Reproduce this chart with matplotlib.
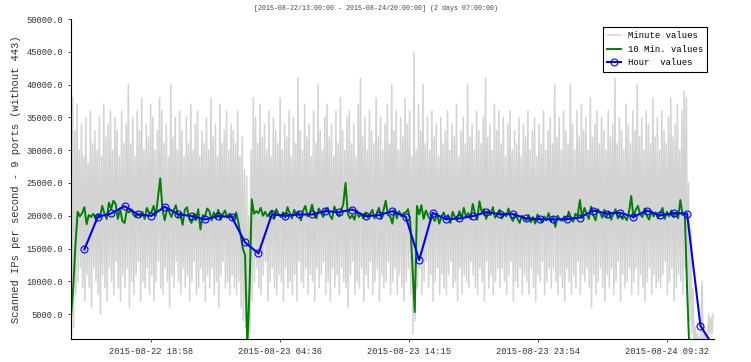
import numpy as np
import matplotlib
matplotlib.use("Agg")
from matplotlib import pyplot as plt

plt.rcParams['font.family'] = ['Liberation Mono', 'DejaVu Sans Mono']

title = "[2015-08-22/13:00:00 - 2015-08-24/20:00:00] (2 days 07:00:00)"
ylabel = "Scanned IPs per second - 9 ports (without 443)"
tick_minutes = [358, 936, 1515, 2094, 2672]
tick_labels = ["2015-08-22 18:58", "2015-08-23 04:36", "2015-08-23 14:15",
               "2015-08-23 23:54", "2015-08-24 09:32"]

# minute values, summarised per 10 minutes as (low, high) in thousands
minute_hi_k = [
    38, 33, 37, 30, 34, 29, 35, 28, 36, 31, 33, 30,
    35, 29, 37, 32, 34, 36, 30, 35, 33, 29, 36, 31,
    34, 40, 31, 35, 29, 36, 33, 38, 30, 34, 32, 37,
    35, 30, 33, 38, 36, 31, 34, 29, 40, 32, 35, 30,
    36, 33, 29, 35, 31, 37, 30, 34, 36, 29, 33, 31,
    35, 30, 38, 32, 34, 29, 37, 31, 33, 36, 30, 34,
    33, 31, 36, 29, 32, 27, 26, 20, 30, 38, 35, 31,
    37, 32, 34, 30, 36, 29, 35, 33, 31, 38, 30, 34,
    32, 36, 29, 35, 31, 41, 33, 30, 37, 32, 34, 29,
    36, 31, 40, 33, 30, 35, 37, 32, 34, 29, 36, 31,
    38, 33, 30, 35, 36, 31, 34, 29, 37, 41, 32, 35,
    30, 36, 33, 31, 38, 32, 35, 30, 34, 37, 31, 40,
    33, 36, 30, 35, 32, 38, 34, 36, 29, 45, 30, 37,
    33, 40, 31, 35, 30, 36, 32, 34, 29, 35, 31, 33,
    36, 30, 34, 32, 37, 29, 33, 35, 31, 40, 32, 34,
    30, 36, 33, 31, 35, 41, 32, 34, 30, 37, 33, 36,
    31, 35, 29, 34, 36, 30, 33, 31, 35, 29, 34, 32,
    36, 30, 33, 35, 29, 34, 31, 36, 30, 33, 35, 31,
    40, 32, 35, 30, 36, 33, 31, 40, 34, 30, 36, 32,
    37, 33, 35, 30, 38, 32, 34, 36, 31, 35, 33, 30,
    36, 32, 34, 41, 31, 35, 33, 30, 37, 34, 31, 36,
    33, 40, 32, 35, 30, 36, 34, 31, 38, 32, 35, 30,
    36, 33, 31, 35, 38, 32, 34, 37, 30, 36, 39, 38,
    25, 18, 9, 3, 2, 1.5, 10, 3, 2, 5, 4.5, 5,
]
minute_lo_k = [
    1, 3, 8, 10, 12, 9, 7, 11, 9, 6, 12, 10,
    8, 5, 11, 9, 7, 12, 10, 8, 13, 9, 7, 11,
    9, 12, 6, 10, 8, 11, 13, 7, 10, 9, 12, 8,
    11, 7, 10, 13, 9, 8, 12, 10, 6, 11, 9, 13,
    10, 8, 12, 9, 11, 7, 10, 13, 8, 9, 12, 10,
    7, 11, 9, 12, 8, 10, 6, 11, 13, 9, 10, 8,
    11, 9, 8, 10, 6, 4, 3, 1, 2, 7, 10, 12,
    9, 8, 11, 13, 7, 10, 12, 9, 8, 11, 10, 7,
    12, 9, 10, 8, 11, 7, 13, 10, 9, 12, 8, 11,
    10, 7, 12, 9, 11, 13, 8, 10, 7, 12, 9, 11,
    8, 12, 10, 9, 6, 11, 13, 8, 10, 9, 12, 7,
    11, 9, 13, 8, 10, 12, 7, 11, 9, 10, 13, 8,
    10, 12, 8, 11, 9, 7, 10, 12, 8, 2, 4, 9,
    12, 8, 10, 13, 9, 11, 7, 10, 12, 8, 11, 9,
    8, 11, 13, 9, 10, 7, 12, 8, 11, 10, 9, 13,
    11, 9, 8, 12, 10, 7, 13, 9, 11, 8, 10, 12,
    9, 12, 10, 8, 11, 13, 7, 10, 9, 12, 8, 11,
    10, 8, 12, 9, 7, 11, 10, 13, 8, 10, 12, 9,
    12, 10, 8, 11, 9, 7, 12, 10, 8, 11, 9, 13,
    8, 11, 10, 12, 9, 6, 11, 8, 10, 12, 9, 7,
    11, 9, 12, 8, 10, 13, 7, 11, 9, 10, 12, 8,
    10, 12, 8, 11, 9, 7, 10, 12, 8, 11, 9, 10,
    9, 11, 13, 8, 10, 12, 7, 9, 11, 10, 8, 12,
    6, 4, 2, 0.5, 0.5, 0.5, 1, 1, 0.5, 1, 2, 2,
]

# 10 minute values, one row per hour
ten_min = [
    4500, 9000, 15500, 20600, 19900, 20400,
    21300, 18700, 20100, 19800, 20300, 19600,
    20200, 19700, 21500, 20300, 19500, 22000,
    21000, 22300, 21800, 19500, 21100, 19200,
    18900, 20800, 20500, 21000, 20100, 19800,
    20300, 19900, 20600, 19500, 21200, 20400,
    20500, 21500, 20000, 22800, 25700, 20900,
    19300, 21000, 20600, 19800, 20800, 21600,
    19800, 20400, 18600, 20900, 21300, 19500,
    18900, 20200, 19300, 21000, 17900, 20100,
    19800, 21100, 20700, 19300, 20500, 19600,
    20900, 19400, 20200, 20800, 19700, 20300,
    20000, 19600, 20500, 19000, 17000, 15000,
    14000, 0, 9000, 22500, 20300, 20700,
    20400, 21200, 20000, 20600, 19900, 20300,
    20800, 19500, 21000, 20200, 19800, 20500,
    19700, 21300, 20400, 19600, 20900, 20000,
    20600, 19300, 20800, 21500, 19900, 20300,
    21700, 20200, 19600, 21100, 20500, 19800,
    20900, 21200, 20000, 19500, 21400, 20600,
    19900, 20700, 21800, 25000, 20300, 19600,
    20100, 19400, 20800, 19800, 20300, 19600,
    20500, 19700, 20200, 20900, 19600, 20400,
    21200, 19500, 20800, 22300, 20100, 19900,
    18800, 21000, 19600, 20700, 19900, 20400,
    20500, 21000, 19000, 12000, 5300, 21500,
    20200, 21600, 19500, 20800, 20000, 19300,
    19800, 19200, 20300, 18800, 19900, 20500,
    19400, 20100, 18900, 20600, 19800, 19300,
    20700, 19600, 21200, 19800, 20400, 19500,
    21800, 20300, 19400, 22200, 20600, 21000,
    19500, 20800, 20100, 21300, 19700, 20200,
    20900, 19600, 20400, 19900, 21100, 19800,
    19200, 20300, 19600, 18900, 20000, 19700,
    19300, 20100, 19000, 19800, 18800, 20200,
    19600, 19000, 19900, 19300, 20400, 19100,
    19800, 18300, 20000, 19500, 19200, 19900,
    19300, 20600, 19700, 19100, 20300, 20000,
    22400, 19600, 21200, 20300, 19500, 21400,
    20100, 19300, 21000, 20500, 19700, 20900,
    19800, 20600, 19400, 20300, 21000, 19600,
    20200, 19500, 19900, 19300, 20600, 23000,
    19700, 20900, 21500, 20200, 19800, 21100,
    20000, 19400, 20700, 19900, 20500, 19600,
    20300, 21200, 19500, 20600, 19900, 20800,
    19800, 20500, 19600, 22400, 20100, 20300,
    9000, 0, 0, 0, 0, 0,
    0, 0, 0, 0, 0, 0,
]

hour_vals = [
    14860, 19830, 20350, 21460, 20190, 19980, 21360, 20240, 19940, 19430,
    19940, 19830, 15930, 14250, 20240, 19980, 20190, 20190, 20700, 20540,
    20950, 19940, 20090, 20700, 19830, 13230, 20440, 19480, 19580, 19940,
    20540, 20240, 20240, 19580, 19480, 19430, 19480, 19730, 20790, 20340,
    20440, 19830, 20790, 20040, 20390, 20340, 3220, 0,
]

# x positions in minutes after 2015-08-22 13:00
lo = np.array(minute_lo_k) * 1000
hi = np.array(minute_hi_k) * 1000
idx = np.arange(len(lo))
min_x = np.column_stack([idx * 10 + 2, idx * 10 + 7]).ravel()
min_y = np.column_stack([lo, hi]).ravel()
ten_x = np.arange(len(ten_min)) * 10
hour_x = (np.arange(len(hour_vals)) + 1) * 60

fig = plt.figure(figsize=(7.51, 3.62), dpi=100)
ax = fig.add_axes([0.0945, 0.0635, 0.856, 0.884])

ax.plot(min_x, min_y, color='#d3d3d3', linewidth=1.1, label='Minute values')
ax.plot(ten_x, ten_min, color='green', linewidth=1.4, label='10 Min. values')
ax.plot(hour_x, hour_vals, color='blue', linewidth=1.5, marker='o', markersize=5,
        markerfacecolor='none', markeredgecolor='blue', markeredgewidth=0.8,
        label='Hour  values')

ax.set_xlim(0, 2880)
ax.set_ylim(1200, 50000)
ax.set_yticks(np.arange(5000, 50001, 5000))
ax.set_yticklabels(["%.1f" % v for v in np.arange(5000, 50001, 5000)])
ax.set_xticks(tick_minutes)
ax.set_xticklabels(tick_labels)
ax.tick_params(labelsize=6.3, length=2, width=0.6, colors='#333333')
ax.spines['top'].set_visible(False)
ax.spines['right'].set_visible(False)
ax.set_ylabel(ylabel, fontsize=7.6, color='#333333', labelpad=4)

leg = ax.legend(loc='upper right', bbox_to_anchor=(0.99, 0.975), borderaxespad=0,
                fontsize=6.4, fancybox=False, edgecolor='black', framealpha=1,
                handlelength=1.5, labelspacing=0.5, borderpad=0.5)
leg.get_frame().set_linewidth(0.8)

fig.text(0.5, 0.985, title, ha='center', va='top', fontsize=4.8, color='#444444')

fig.savefig('out.png', dpi=100)
